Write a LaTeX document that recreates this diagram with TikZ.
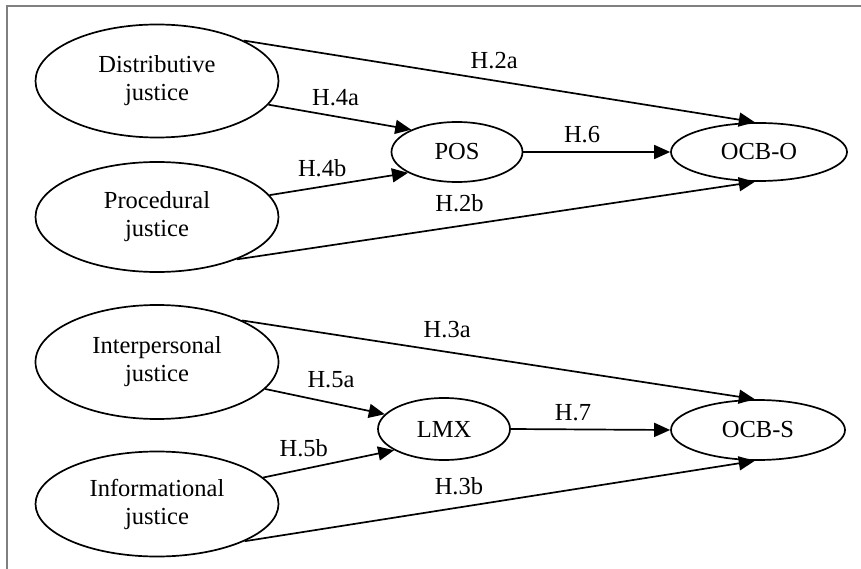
\documentclass[tikz,border=0pt]{standalone}
\usepackage{fontspec}
\setmainfont{Liberation Serif}
\usetikzlibrary{shapes.geometric, arrows.meta}

\begin{document}
\begin{tikzpicture}[
            x=1pt, y=-1pt,
            construct/.style={ellipse, draw=black, line width=1.7pt, inner sep=0pt, align=center, font=\fontsize{24.5}{28}\selectfont},
            link/.style={draw, line width=1.7pt, -{Triangle[length=16pt, width=14pt]}},
            hyp/.style={inner sep=0pt, font=\fontsize{24.5}{28}\selectfont}
        ]
        \useasboundingbox (0,0) rectangle (861,569);

        % --- Frame ---
        \draw[gray, line width=2pt] (7,569) -- (7,6) -- (861,6);

        % --- Justice dimensions ---
        \node[construct, minimum width=243pt, minimum height=113pt] (distributive) at (157,81) {Distributive\\justice};
        \node[construct, minimum width=243pt, minimum height=110pt] (procedural) at (157,217) {Procedural\\justice};
        \node[construct, minimum width=243pt, minimum height=114pt] (interpersonal) at (157,362) {Interpersonal\\justice};
        \node[construct, minimum width=243pt, minimum height=105pt] (informational) at (157,504) {Informational\\justice};

        % --- Mediators ---
        \node[construct, minimum width=131pt, minimum height=60pt] (pos) at (457,152) {POS};
        \node[construct, minimum width=132pt, minimum height=62pt] (lmx) at (444,429) {LMX};

        % --- Outcomes ---
        \node[construct, minimum width=176pt, minimum height=58pt] (ocbo) at (759,152) {OCB-O};
        \node[construct, minimum width=174pt, minimum height=60pt] (ocbs) at (758,430) {OCB-S};

        % --- Upper model ---
        \draw[link] (distributive.25) -- node[hyp, pos=0.49, above=11pt] {H.2a} (ocbo.98);
        \draw[link] (distributive.-12) -- node[hyp, pos=0.47, above=10pt] {H.4a} (pos.154);
        \draw[link] (procedural.11) -- node[hyp, pos=0.38, above=9pt] {H.4b} (pos.203);
        \draw[link] (procedural.-28) -- node[hyp, pos=0.43, above=13pt] {H.2b} (ocbo.262);
        \draw[link] (pos.east) -- node[hyp, pos=0.4, above=8pt] {H.6} (ocbo.west);

        % --- Lower model ---
        \draw[link] (interpersonal.26) -- node[hyp, pos=0.40, above=13pt] {H.3a} (ocbs.96);
        \draw[link] (interpersonal.-14) -- node[hyp, pos=0.55, above=14pt] {H.5a} (lmx.166);
        \draw[link] (informational.14) -- node[hyp, pos=0.31, above=11pt] {H.5b} (lmx.203);
        \draw[link] (informational.-23) -- node[hyp, pos=0.42, above=12pt] {H.3b} (ocbs.264);
        \draw[link] (lmx.east) -- node[hyp, pos=0.39, above=8pt] {H.7} (ocbs.west);

\end{tikzpicture}
\end{document}
